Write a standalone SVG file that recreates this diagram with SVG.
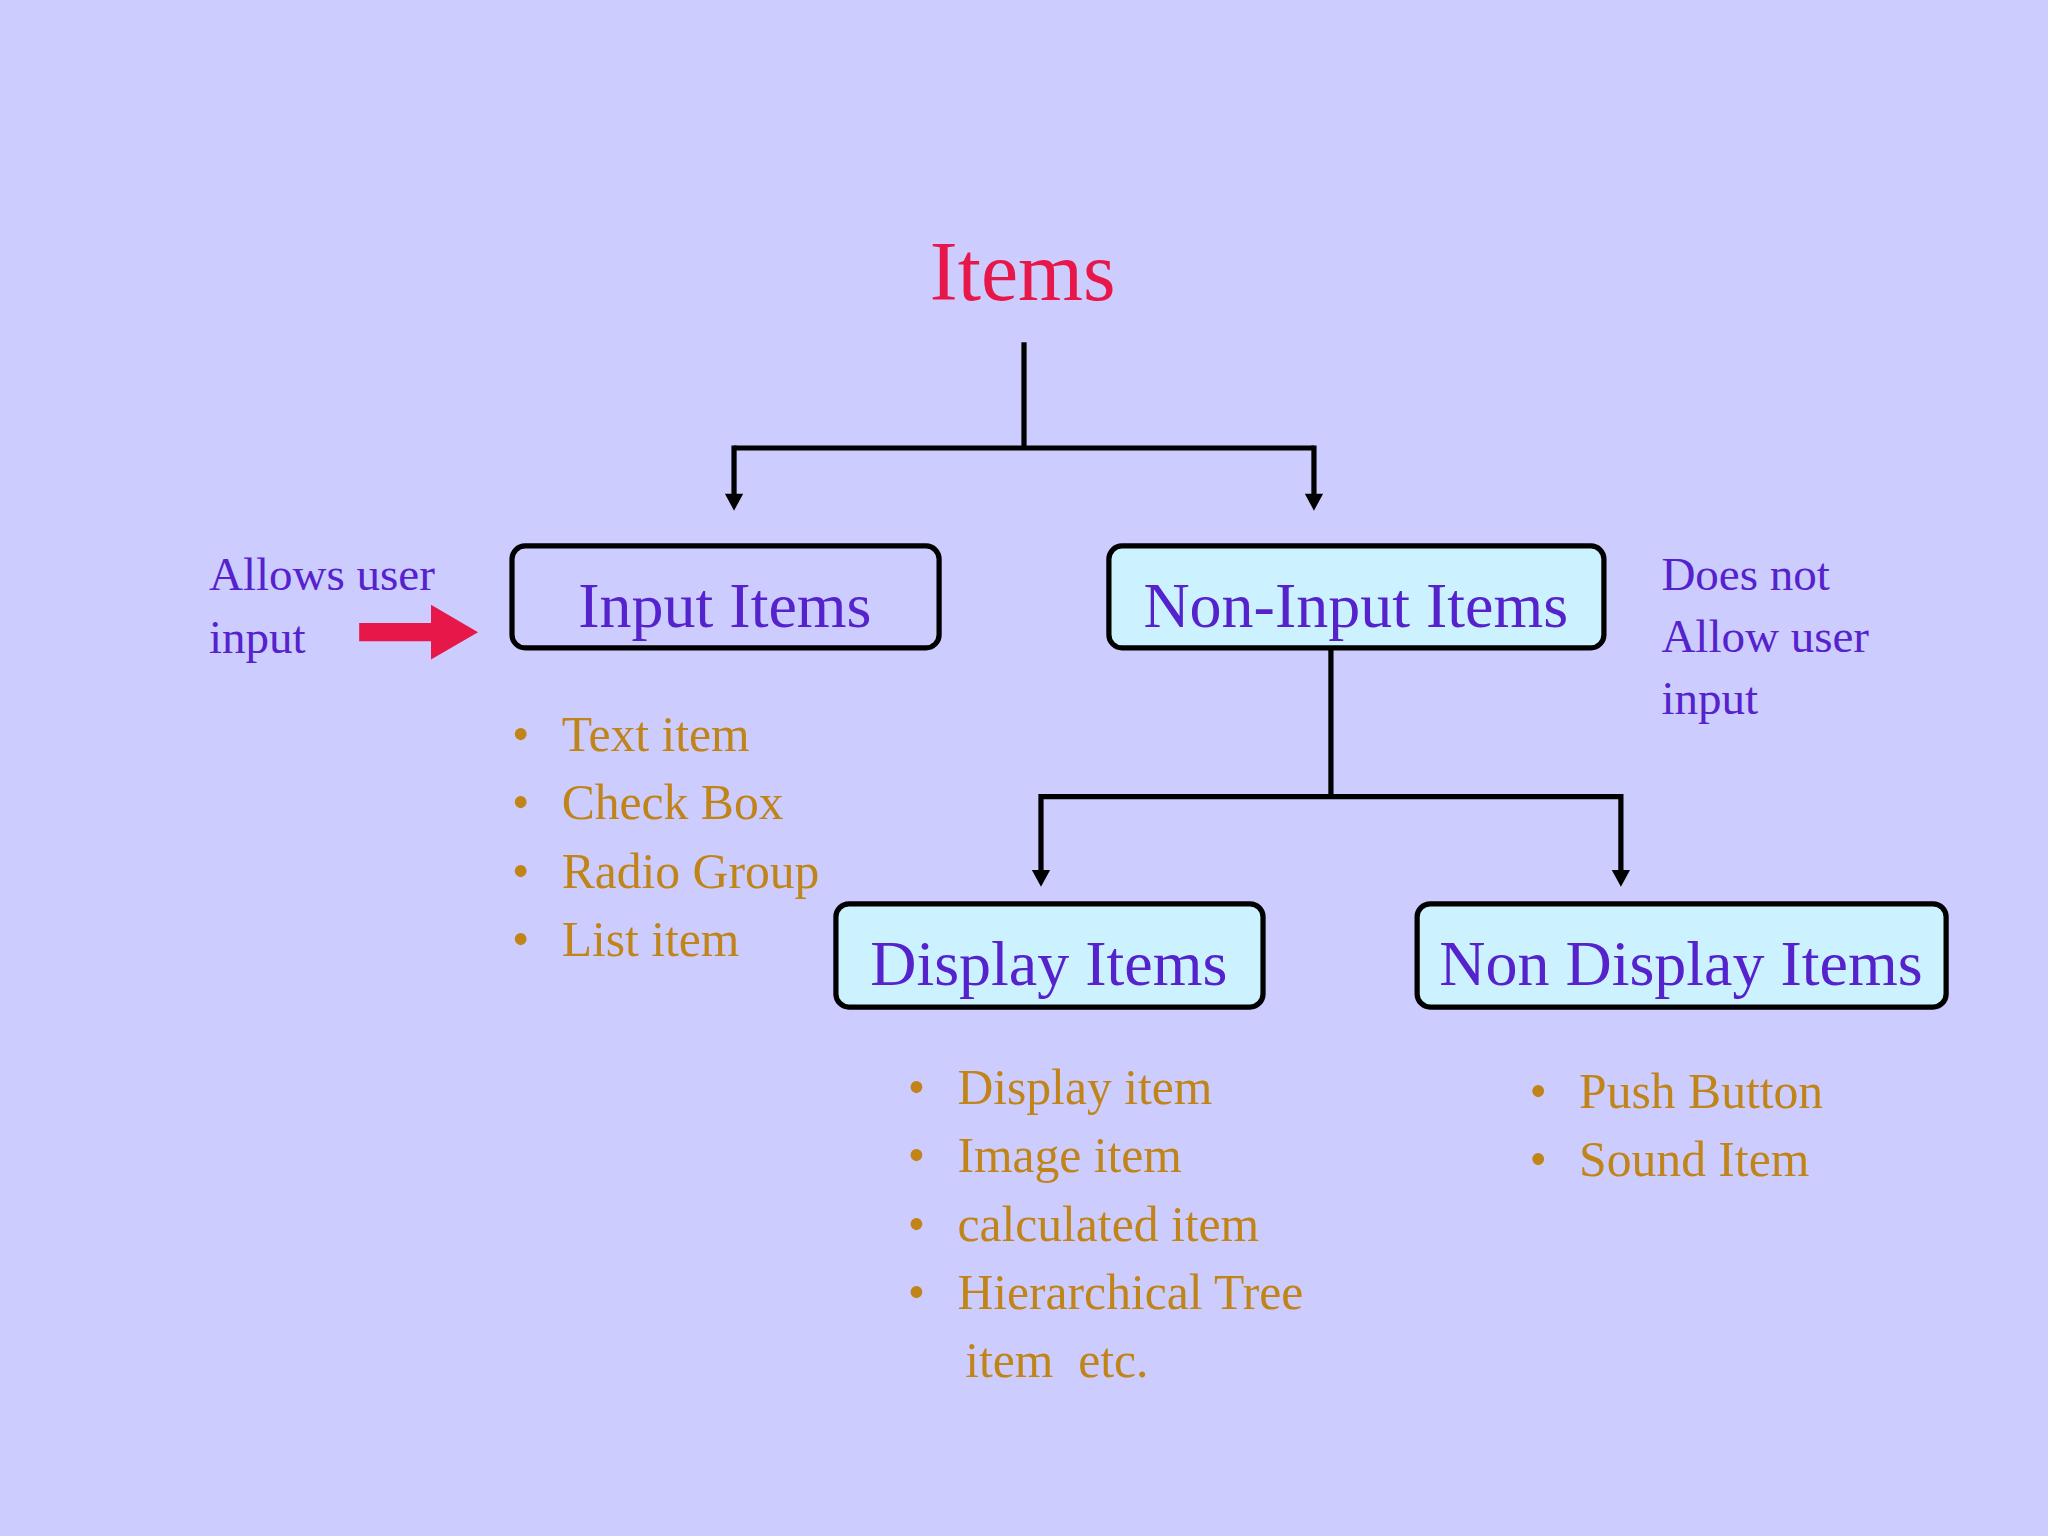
<svg xmlns="http://www.w3.org/2000/svg" width="2048" height="1536" viewBox="0 0 2048 1536">
<defs>
<style>
.t{font-family:"Liberation Serif",serif}
.box{stroke:#000;stroke-width:4}
.bt{font-size:49px;fill:#5522cc;text-anchor:middle}
.bl{font-size:38px;fill:#c08418}
.note{font-size:36px;fill:#5522cc}
.ln{stroke:#000;stroke-width:4;fill:none}
</style>
<marker id="ah" markerWidth="10" markerHeight="10" refX="5" refY="9" orient="auto" markerUnits="userSpaceOnUse" viewBox="0 0 10 10"><path d="M0,0 L10,0 L5,10 Z" fill="#000" transform="rotate(-90 5 5)"/></marker>
</defs>
<rect width="2048" height="1536" fill="#ccccff"/>
<g transform="scale(1.30612)" class="t">
<g id="connectors">
<path class="ln" d="M784,262 V343 M562,343 H1006 M1019,496 V610 M797,610 H1241"/>
<path class="ln" d="M562,341 V380 M1006,341 V380 M797,608 V668 M1241,608 V668"/>
<path d="M555,378 L569,378 L562,391 Z M999,378 L1013,378 L1006,391 Z M790,666 L804,666 L797,679 Z M1234,666 L1248,666 L1241,679 Z" fill="#000"/>
<path d="M275,477 H330 V463 L366,484 L330,505 V491 H275 Z" fill="#e8174a"/>
</g>
<g id="items"><text x="783" y="230" font-size="64" fill="#e8174a" text-anchor="middle">Items</text></g>
<g id="input"><rect class="box" x="392" y="418" width="327" height="78" rx="10" fill="none"/><text class="bt" x="555" y="480">Input Items</text></g>
<g id="noninput"><rect class="box" x="849" y="418" width="379" height="78" rx="10" fill="#ccf2ff"/><text class="bt" x="1038" y="480">Non-Input Items</text></g>
<g id="display"><rect class="box" x="640" y="692" width="327" height="79" rx="10" fill="#ccf2ff"/><text class="bt" x="803" y="754">Display Items</text></g>
<g id="nondisplay"><rect class="box" x="1085" y="692" width="405" height="79" rx="10" fill="#ccf2ff"/><text class="bt" x="1287" y="754">Non Display Items</text></g>
<g id="notes">
<text class="note" x="160" y="452">Allows user</text><text class="note" x="160" y="500">input</text>
<text class="note" x="1272" y="452">Does not</text><text class="note" x="1272" y="499">Allow user</text><text class="note" x="1272" y="547">input</text>
</g>
<g id="list-input" class="bl">
<text x="392" y="575">•</text><text x="430" y="575">Text item</text>
<text x="392" y="627">•</text><text x="430" y="627">Check Box</text>
<text x="392" y="680">•</text><text x="430" y="680">Radio Group</text>
<text x="392" y="732">•</text><text x="430" y="732">List item</text>
</g>
<g id="list-display" class="bl">
<text x="695" y="845">•</text><text x="733" y="845">Display item</text>
<text x="695" y="897">•</text><text x="733" y="897">Image item</text>
<text x="695" y="950">•</text><text x="733" y="950">calculated item</text>
<text x="695" y="1002">•</text><text x="733" y="1002">Hierarchical Tree</text>
<text x="739" y="1054" xml:space="preserve">item  etc.</text>
</g>
<g id="list-nondisplay" class="bl">
<text x="1171" y="848">•</text><text x="1209" y="848">Push Button</text>
<text x="1171" y="900">•</text><text x="1209" y="900">Sound Item</text>
</g>
</g>
</svg>
